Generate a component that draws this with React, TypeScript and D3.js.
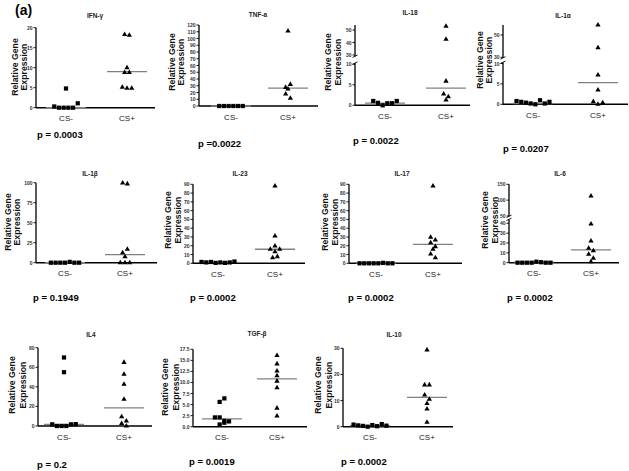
import React from "react";
import * as d3 from "d3";

// ---------- data ----------
const cytokines = ["IFN-γ", "TNF-a", "IL-18", "IL-1α", "IL-1β", "IL-23", "IL-17", "IL-6", "IL4", "TGF-β", "IL-10"];
const pLabels = ["p = 0.0003", "p =0.0022", "p = 0.0022", "p = 0.0207", "p = 0.1949", "p = 0.0002", "p = 0.0002", "p = 0.0002", "p = 0.2", "p = 0.0019", "p = 0.0002"];
const groups = ["CS-", "CS+"];

const csMinus: number[][] = [
  [0.3, 4.8, 0, 0, 0, 0, 1.1],
  [0, 0, 0, 0, 0, 0],
  [1.05, 0.6, 0, 0.5, 0.5, 1.05],
  [0.8, 0.6, 0.4, 0.2, 0, 1.0, 0.2, 0.6],
  [0, 0, 0, 0, 1, 0, 0],
  [1.5, 1, 1.5, 0.5, 1, 0.5, 1, 2],
  [0, 0, 0, 0, 0, 0.5, 0, 0],
  [0, 0, 0, 0, 1, 0.5, 0, 0],
  [1.7, 70, 55, 0, 0, 0, 1.7, 1.9],
  [2.1, 2.1, 1.3, 5.6, 6.4, 0.5, 0.9, 1.2],
  [0.8, 0.5, 0.3, 0, 0.6, 0.2, 1, 0.4],
];
const csPlus: number[][] = [
  [18.3, 18.1, 10, 8.8, 8.8, 5.1, 4.85, 4.85],
  [111, 27.6, 25.2, 32, 17.8, 11.4],
  [53, 42.6, 5.9, 2.75, 2.1, 1.3],
  [59, 38.6, 7.2, 3.5, 0.65, 0, 0.4],
  [99.5, 98.5, 12.5, 16.7, 7.5, 0, 0, 0],
  [88, 31, 15.9, 19.7, 15.9, 13.2, 6.4, 7.6],
  [88, 29.6, 26.5, 23.5, 19, 15.9, 10.6, 6.4],
  [113, 39.3, 22, 14.6, 12.2, 8.5, 4.5, 1],
  [65, 52.8, 42.6, 27.3, 9.5, 5.1, 2.5, 0],
  [16.1, 14.2, 12.6, 11.5, 10.3, 8.8, 4.2, 2.4],
  [29.4, 16, 16, 12.1, 10.5, 8.9, 6.8, 1.7],
];
const medianMinus = [0, 0, 0.55, 0.2, 0, 1, 0.3, 0.5, 1.7, 1.75, 0.4];
const medianPlus = [9.0, 26.4, 4.2, 5.3, 10.2, 16, 21.5, 13, 18.6, 10.8, 11.2];

// tick labels per panel, per axis segment
const yTicks: number[][][] = [
  [[0, 5, 10, 15, 20]],
  [[0, 10, 20, 30, 40, 50, 60, 70, 80, 90, 100, 110, 120]],
  [[0, 5, 10], [30, 40, 50]],
  [[0, 5, 10], [30, 50]],
  [[0, 25, 50, 75, 100]],
  [[0, 10, 20, 30, 40, 50, 60, 70, 80, 90]],
  [[0, 10, 20, 30, 40, 50, 60, 70, 80, 90]],
  [[0, 10, 20, 30, 40], [50, 100, 150]],
  [[0, 20, 40, 60, 80]],
  [[0, 2.5, 5, 7.5, 10, 12.5, 15, 17.5]],
  [[0, 10, 20, 30]],
];
const tickFormats = ["d", "d", "d", "d", "d", "d", "d", "d", "d", ".1f", "d"];

// ---------- layout ----------
type Seg = { d: [number, number]; r: [number, number]; e: [number, number] };
type Lay = {
  ax: number; xEnd: number; cat: [number, number]; title: [number, number];
  yl: [number, number]; ylc: number; p: [number, number]; segs: Seg[];
};
const layout: Lay[] = [
  { ax: 36, xEnd: 155, cat: [66, 127], title: [95, 15], yl: [15, 23.5], ylc: 67, p: [37, 134], segs: [{ d: [0, 20], r: [107.7, 27.7], e: [0, 20] }] },
  { ax: 199, xEnd: 318, cat: [231, 288], title: [258, 14], yl: [171.7, 180.5], ylc: 62, p: [198, 143], segs: [{ d: [0, 120], r: [106, 25], e: [0, 120] }] },
  { ax: 355, xEnd: 470, cat: [385, 446], title: [410, 12], yl: [328, 337.5], ylc: 62, p: [353, 140], segs: [{ d: [0, 10], r: [105.3, 64.3], e: [0, 10.3] }, { d: [30, 50], r: [55, 30], e: [29, 54] }] },
  { ax: 503, xEnd: 628, cat: [533, 598], title: [563, 15], yl: [480, 489], ylc: 60, p: [503, 148], segs: [{ d: [0, 10], r: [104.3, 63.5], e: [0, 10.3] }, { d: [30, 50], r: [57.3, 35], e: [29.5, 59] }] },
  { ax: 36, xEnd: 157, cat: [65, 125], title: [90, 173], yl: [7.5, 17], ylc: 222, p: [33, 297], segs: [{ d: [0, 100], r: [262.7, 182.7], e: [0, 100] }] },
  { ax: 193, xEnd: 305, cat: [218, 275], title: [240, 173], yl: [168, 178], ylc: 220, p: [190, 297], segs: [{ d: [0, 90], r: [263.3, 184.3], e: [0, 90] }] },
  { ax: 349, xEnd: 462, cat: [376, 433], title: [402, 173], yl: [325, 335], ylc: 222, p: [348, 297], segs: [{ d: [0, 90], r: [263.3, 184.3], e: [0, 90] }] },
  { ax: 509, xEnd: 619, cat: [534, 591], title: [560, 173], yl: [485, 495], ylc: 220, p: [507, 297], segs: [{ d: [0, 40], r: [262.7, 223.3], e: [0, 44] }, { d: [50, 150], r: [216, 184.3], e: [49, 150] }] },
  { ax: 38, xEnd: 152, cat: [64, 124], title: [91, 334], yl: [12, 22.5], ylc: 385, p: [37, 464], segs: [{ d: [0, 80], r: [426, 347.7], e: [0, 80] }] },
  { ax: 193, xEnd: 307, cat: [222, 277], title: [257, 333], yl: [165, 176], ylc: 387, p: [189, 461], segs: [{ d: [0, 17.5], r: [426.7, 349.3], e: [0, 17.5] }] },
  { ax: 343, xEnd: 453, cat: [370, 427], title: [394, 334], yl: [318, 329], ylc: 385, p: [341, 461], segs: [{ d: [0, 30], r: [426.7, 348.3], e: [0, 30] }] },
];

const FONT = "'Liberation Sans', Arial, Helvetica, sans-serif";
const STEP = 4.7;
const ROW_T = 4.5;

function swarm(values: number[], cx: number, yFn: (v: number) => number) {
  const pts = values.map((v, i) => ({ v, i, y: yFn(v) }));
  const byY = [...pts].sort((a, b) => a.y - b.y || a.i - b.i);
  const rows: typeof pts[] = [];
  for (const p of byY) {
    const last = rows[rows.length - 1];
    if (last && p.y - last[0].y < ROW_T) last.push(p);
    else rows.push([p]);
  }
  const out: { v: number; x: number; y: number }[] = [];
  rows.forEach((row) => {
    row.sort((a, b) => a.i - b.i);
    row.forEach((p, j) => out.push({ v: p.v, y: p.y, x: cx + (j - (row.length - 1) / 2) * STEP }));
  });
  return out;
}

const squarePath = d3.symbol().type(d3.symbolSquare).size(18)()!;
const trianglePath = d3.symbol().type(d3.symbolTriangle).size(12)()!;

function Panel({ k }: { k: number }) {
  const L = layout[k];
  const scales = L.segs.map((s) => ({ s, sc: d3.scaleLinear().domain(s.d).range(s.r) }));
  const yOf = (v: number) => {
    for (const { s, sc } of scales) if (v <= s.e[1]) return sc(v);
    return scales[scales.length - 1].sc(v);
  };
  const x = d3.scalePoint<string>().domain(groups).range(L.cat);
  const y0 = yOf(0);
  const fmt = d3.format(tickFormats[k]);
  const minusPts = swarm(csMinus[k], x("CS-")!, yOf);
  const plusPts = swarm(csPlus[k], x("CS+")!, yOf);
  const meds = [medianMinus[k], medianPlus[k]];
  return (
    <g>
      {/* y axis segments */}
      {scales.map(({ s, sc }, si) => {
        const yb = sc(s.e[0]);
        const yt = sc(s.e[1]);
        return (
          <g key={si}>
            <line x1={L.ax} x2={L.ax} y1={yb} y2={yt} stroke="#000" strokeWidth={1.3} />
            {scales.length > 1 && si > 0 && (
              <line x1={L.ax - 2.5} x2={L.ax + 2.5} y1={yb + 1.2} y2={yb - 1.2} stroke="#000" strokeWidth={0.9} />
            )}
            {scales.length > 1 && si < scales.length - 1 && (
              <line x1={L.ax - 2.5} x2={L.ax + 2.5} y1={yt + 1.2} y2={yt - 1.2} stroke="#000" strokeWidth={0.9} />
            )}
            {yTicks[k][si].map((t) => (
              <g key={t}>
                <line x1={L.ax - 2.5} x2={L.ax} y1={sc(t)} y2={sc(t)} stroke="#000" strokeWidth={0.9} />
                <text x={L.ax - 3.5} y={sc(t)} textAnchor="end" dominantBaseline="central" fontSize={5} fontWeight="bold" fill="#333" fontFamily={FONT}>
                  {fmt(t)}
                </text>
              </g>
            ))}
          </g>
        );
      })}
      {/* x axis */}
      <line x1={L.ax} x2={L.xEnd} y1={y0} y2={y0} stroke="#000" strokeWidth={1.4} />
      {groups.map((g) => (
        <text key={g} x={x(g)} y={y0 + 11} textAnchor="middle" dominantBaseline="central" fontSize={8} fill="#222" fontFamily={FONT}>
          {g}
        </text>
      ))}
      {/* medians */}
      {groups.map((g, gi) => (
        <line key={g} x1={x(g)! - 20} x2={x(g)! + 20} y1={yOf(meds[gi])} y2={yOf(meds[gi])} stroke="#808080" strokeWidth={1.3} />
      ))}
      {/* points */}
      {minusPts.map((p, i) => (
        <path key={"m" + i} d={squarePath} transform={`translate(${p.x},${p.y})`} fill="#000" />
      ))}
      {plusPts.map((p, i) => (
        <path key={"p" + i} d={trianglePath} transform={`translate(${p.x},${p.y})`} fill="#000" />
      ))}
      {/* title */}
      <text x={L.title[0]} y={L.title[1]} textAnchor="middle" dominantBaseline="central" fontSize={6.5} fontWeight="bold" fill="#222" fontFamily={FONT}>
        {cytokines[k]}
      </text>
      {/* y label */}
      <text transform={`translate(${L.yl[0]},${L.ylc}) rotate(-90)`} textAnchor="middle" dominantBaseline="central" fontSize={8.7} fontWeight="bold" fill="#111" fontFamily={FONT}>
        Relative Gene
      </text>
      <text transform={`translate(${L.yl[1]},${L.ylc}) rotate(-90)`} textAnchor="middle" dominantBaseline="central" fontSize={8.7} fontWeight="bold" fill="#111" fontFamily={FONT}>
        Expression
      </text>
      {/* p value */}
      <text x={L.p[0]} y={L.p[1]} dominantBaseline="central" fontSize={9.5} fontWeight="bold" fill="#000" fontFamily={FONT}>
        {pLabels[k]}
      </text>
    </g>
  );
}

export default function App() {
  return (
    <svg width={629} height={471} style={{ position: "absolute", left: 0, top: 0, background: "#fff" }}>
      <rect width={629} height={471} fill="#fff" />
      <text x={15} y={10} dominantBaseline="central" fontSize={14} fontWeight="bold" fill="#000" fontFamily={FONT}>
        (a)
      </text>
      {cytokines.map((_, k) => (
        <Panel key={k} k={k} />
      ))}
    </svg>
  );
}
